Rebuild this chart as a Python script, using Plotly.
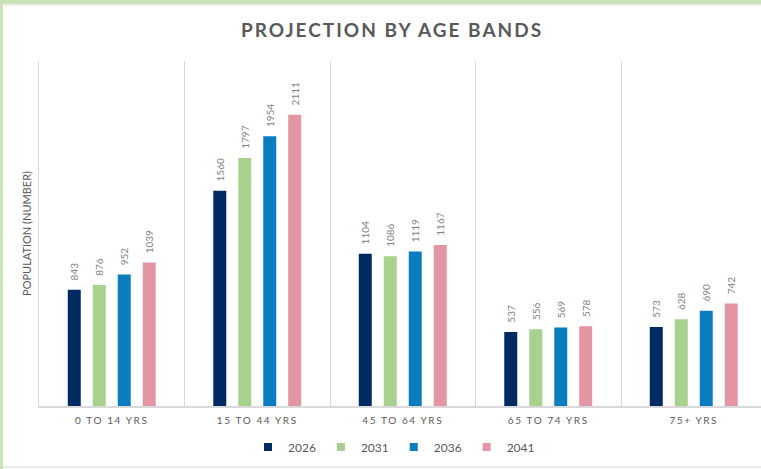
import plotly.graph_objects as go

categories = ["0 TO 14 YRS", "15 TO 44 YRS", "45 TO 64 YRS", "65 TO 74 YRS", "75+ YRS"]
years = ["2026", "2031", "2036", "2041"]
v2026 = [843, 1560, 1104, 537, 573]
v2031 = [876, 1797, 1086, 556, 628]
v2036 = [952, 1954, 1119, 569, 690]
v2041 = [1039, 2111, 1167, 578, 742]
series = [v2026, v2031, v2036, v2041]
colors = ["#002B62", "#A9D18E", "#0A7DBE", "#E495A3"]

W, H = 761, 469
ML, MR, MT, MB = 39, 0, 61, 63
PW, PH = W - ML - MR, H - MT - MB

def px_x(px):
    return (px - ML) / PW

def px_y(py):
    return 1 - (py - MT) / PH

FONT = "Lato"

fig = go.Figure()
for name, vals, col in zip(years, series, colors):
    fig.add_trace(go.Bar(
        x=categories, y=vals, name=name, marker_color=col, marker_line_width=0,
        text=vals, texttemplate="\u2002\u2009%{y}", textposition="outside", textangle=-90,
        constraintext="none",
        textfont=dict(family=FONT, size=10, color="#7F7F7F"),
        cliponaxis=False, showlegend=False, hoverinfo="x+y+name",
    ))
for name, col in zip(years, colors):
    fig.add_trace(go.Scatter(
        x=[None], y=[None], mode="markers", name=name,
        marker=dict(symbol="square", size=8, color=col),
    ))

ticktext = ['<span style="letter-spacing:1.6px">%s</span>' % c for c in categories]

fig.update_layout(
    width=W, height=H,
    margin=dict(l=ML, r=MR, t=MT, b=MB),
    paper_bgcolor="white", plot_bgcolor="white",
    barmode="group", bargap=0.313, bargroupgap=0.48,
    title=dict(
        text='<span style="letter-spacing:2px">PROJECTION BY AGE BANDS</span>',
        x=392 / W, xanchor="center", y=1 - 30 / H, yanchor="middle",
        font=dict(family=FONT, size=19, color="#595959", weight="bold"),
    ),
    xaxis=dict(
        type="category", range=[-0.5, -0.5 + PW / 145.5],
        tickmode="array", tickvals=categories, ticktext=ticktext,
        tickson="boundaries", ticks="", showgrid=True, gridcolor="#D9D9D9", gridwidth=1,
        showline=True, linecolor="#D9D9D9", linewidth=1.5, ticklabelstandoff=4,
        tickfont=dict(family=FONT, size=10, color="#595959"),
        fixedrange=True,
    ),
    yaxis=dict(
        range=[0, 2500], showticklabels=False, showgrid=False, zeroline=False,
        showline=True, linecolor="#D9D9D9", linewidth=1,
        title=dict(text="POPULATION (NUMBER)", standoff=4,
                   font=dict(family=FONT, size=11, color="#595959")),
        fixedrange=True,
    ),
    legend=dict(
        orientation="h", x=px_x(394), xanchor="center", y=px_y(447), yanchor="middle",
        font=dict(family=FONT, size=12, color="#595959"),
        itemwidth=30, bgcolor="rgba(0,0,0,0)",
    ),
    shapes=[
        dict(type="rect", xref="paper", yref="paper", x0=px_x(0), x1=px_x(W), y0=px_y(0), y1=px_y(4.5),
             fillcolor="#C9E2B8", line_width=0, layer="above"),
        dict(type="rect", xref="paper", yref="paper", x0=px_x(0), x1=px_x(3), y0=px_y(0), y1=px_y(H),
             fillcolor="#C9E2B8", line_width=0, layer="above"),
        dict(type="line", xref="paper", yref="paper", x0=px_x(3), x1=px_x(W), y0=px_y(5), y1=px_y(5),
             line=dict(color="#E6E6E6", width=1), layer="above"),
        dict(type="line", xref="paper", yref="paper", x0=px_x(3), x1=px_x(W), y0=px_y(467), y1=px_y(467),
             line=dict(color="#E3E3E3", width=1.5), layer="above"),
    ],
)

fig.write_html("out.html", config={"displayModeBar": False},
               post_script="document.body.style.margin='0';")
